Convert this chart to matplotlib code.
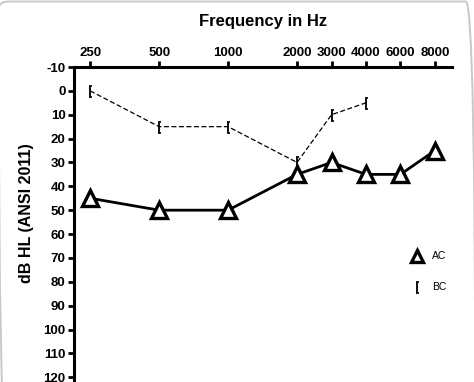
import numpy as np
import matplotlib.pyplot as plt
from matplotlib.lines import Line2D
from matplotlib.patches import FancyBboxPatch

plt.rcParams['font.family'] = ['Liberation Sans', 'DejaVu Sans']

freqs = ["250", "500", "1000", "2000", "3000", "4000", "6000", "8000"]
freq_pos = [0, 2, 4, 6, 7, 8, 9, 10]

ac_pos = [0, 2, 4, 6, 7, 8, 9, 10]
ac_db = [45, 50, 50, 35, 30, 35, 35, 25]

bc_pos = [0, 2, 4, 6, 7, 8]
bc_db = [0, 15, 15, 30, 10, 5]

y_ticks = list(range(-10, 130, 10))

fig = plt.figure(figsize=(4.74, 3.82), dpi=100)
ax = fig.add_axes([0.156, 0.0, 0.798, 0.8246])

# faint rounded frame, only its top edge falls inside the image
fig.patches.append(FancyBboxPatch((-0.003, -0.2), 1.006, 1.196,
                                  boxstyle="round,pad=0,rounding_size=0.02",
                                  transform=fig.transFigure, facecolor="none",
                                  edgecolor="#c8c8c8", linewidth=1.4))

ax.plot(bc_pos, bc_db, color="black", linestyle=(0, (4, 2)), linewidth=0.9,
        marker=r"$[$", markersize=9, markeredgewidth=0.6, zorder=2)
ax.plot(ac_pos, ac_db, color="black", linewidth=2.0, marker="^",
        markersize=12, markerfacecolor="white", markeredgecolor="black",
        markeredgewidth=2.4, zorder=3)

ax.set_xlim(-0.47, 10.5)
ax.set_ylim(122, -10)
ax.xaxis.tick_top()
ax.set_xticks(freq_pos)
ax.set_xticklabels(freqs, fontsize=9.5, fontweight="bold")
ax.set_yticks(y_ticks)
ax.set_yticklabels([str(v) for v in y_ticks], fontsize=9.5, fontweight="bold")
ax.tick_params(axis="both", direction="out", length=4, width=2, pad=2)

for side in ["right", "bottom"]:
    ax.spines[side].set_visible(False)
for side in ["left", "top"]:
    ax.spines[side].set_linewidth(2.2)

ax.set_ylabel("dB HL (ANSI 2011)", fontsize=11.5, fontweight="bold")
ax.yaxis.set_label_coords(-0.105, 0.535)
fig.text(0.555, 0.945, "Frequency in Hz", ha="center", va="center",
         fontsize=12, fontweight="bold")

handles = [
    Line2D([], [], linestyle="none", marker="^", markersize=9,
           markerfacecolor="white", markeredgecolor="black", markeredgewidth=2.4),
    Line2D([], [], linestyle="none", marker=r"$[$", markersize=9,
           color="black", markeredgewidth=0.6),
]
ax.legend(handles, ["AC", "BC"], loc="center left", bbox_to_anchor=(0.865, 0.35),
          frameon=False, fontsize=7.5, handlelength=1.2, labelspacing=2.0,
          handletextpad=0.9)

fig.savefig("out.png", dpi=100)
